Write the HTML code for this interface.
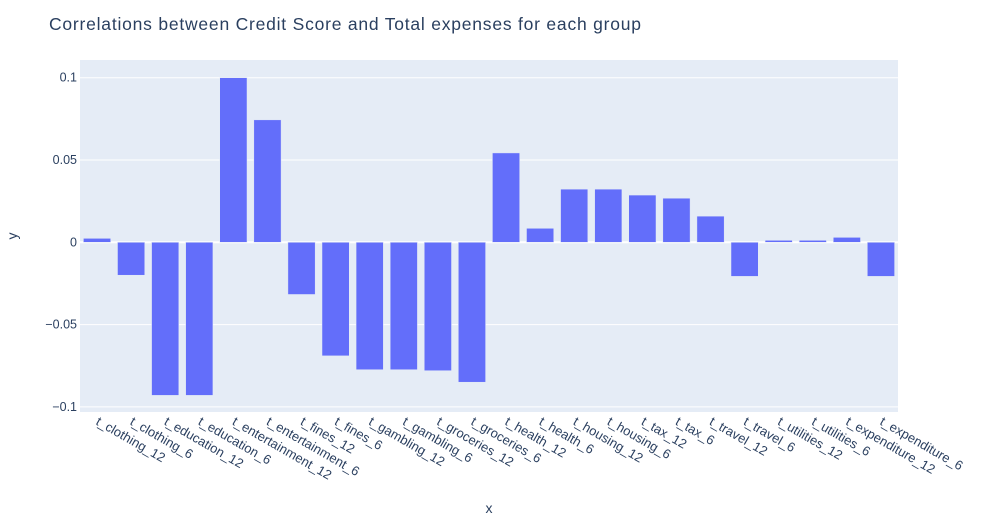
<!DOCTYPE html>
<html><head><meta charset="utf-8"><style>
body{margin:0;background:#fff;font-family:"Liberation Sans",Arial,sans-serif}
</style></head><body>
<svg id="chart" width="983" height="525" xmlns="http://www.w3.org/2000/svg">
<rect width="983" height="525" fill="#fff"/>
<text x="49" y="30" font-size="17.5" fill="#2a3f5f" textLength="592" font-family="Liberation Sans, Arial, sans-serif">Correlations between Credit Score and Total expenses for each group</text>
<rect x="80" y="60" width="818" height="352" fill="#e5ecf6"/>
<g id="grid"></g><g id="bars"></g><g id="yticks"></g><g id="xticks"></g>
<text x="489" y="513" font-size="14" fill="#2a3f5f" text-anchor="middle">x</text>
<text x="17" y="236" font-size="14" fill="#2a3f5f" text-anchor="middle" transform="rotate(-90 17 236)">y</text>
</svg>
<script>
const categories=["t_clothing_12","t_clothing_6","t_education_12","t_education_6","t_entertainment_12","t_entertainment_6","t_fines_12","t_fines_6","t_gambling_12","t_gambling_6","t_groceries_12","t_groceries_6","t_health_12","t_health_6","t_housing_12","t_housing_6","t_tax_12","t_tax_6","t_travel_12","t_travel_6","t_utilities_12","t_utilities_6","t_expenditure_12","t_expenditure_6"];
const values=[0.0024,-0.020,-0.093,-0.093,0.100,0.0744,-0.0317,-0.069,-0.0774,-0.0774,-0.078,-0.085,0.0543,0.0085,0.0323,0.0323,0.0287,0.0268,0.0159,-0.0207,0.0012,0.0012,0.003,-0.0207];
const yTickValues=[-0.1,-0.05,0,0.05,0.1];
const yTickLabels=["\u22120.1","\u22120.05","0","0.05","0.1"];
const NS="http://www.w3.org/2000/svg";
const L=80,R=898,zeroY=242.3,scale=1646;
const y=v=>zeroY-v*scale;
const band=(R-L)/categories.length;
const x=i=>L+i*band;
function mk(t,a,p){const e=document.createElementNS(NS,t);for(const k in a)e.setAttribute(k,a[k]);document.getElementById(p).appendChild(e);return e;}
yTickValues.forEach((v,i)=>{
 const g=mk('line',{x1:L,x2:R,y1:y(v),y2:y(v),stroke:'#fff','stroke-width':v===0?2:1},'grid');
 
 
 const t=mk('text',{x:L-3,y:y(v)+4,'font-size':12.5,fill:'#2a3f5f','text-anchor':'end'},'yticks');
 t.textContent=yTickLabels[i];
 
 
});
categories.forEach((c,i)=>{
 const v=values[i];
 const b=mk('rect',{x:x(i)+band*0.1,width:band*0.8,y:Math.min(y(v),y(0)),height:Math.abs(y(v)-y(0)),fill:'#636efa',stroke:'#e5ecf6','stroke-width':0.5},'bars');
 
 
 const cx=x(i)+band/2-2, cy=424;
 const t=mk('text',{x:cx,y:cy,'font-size':13,fill:'#2a3f5f',transform:`rotate(30 ${cx} ${cy})`},'xticks');
 t.textContent=c;
 
 
});
</script>
</body></html>
